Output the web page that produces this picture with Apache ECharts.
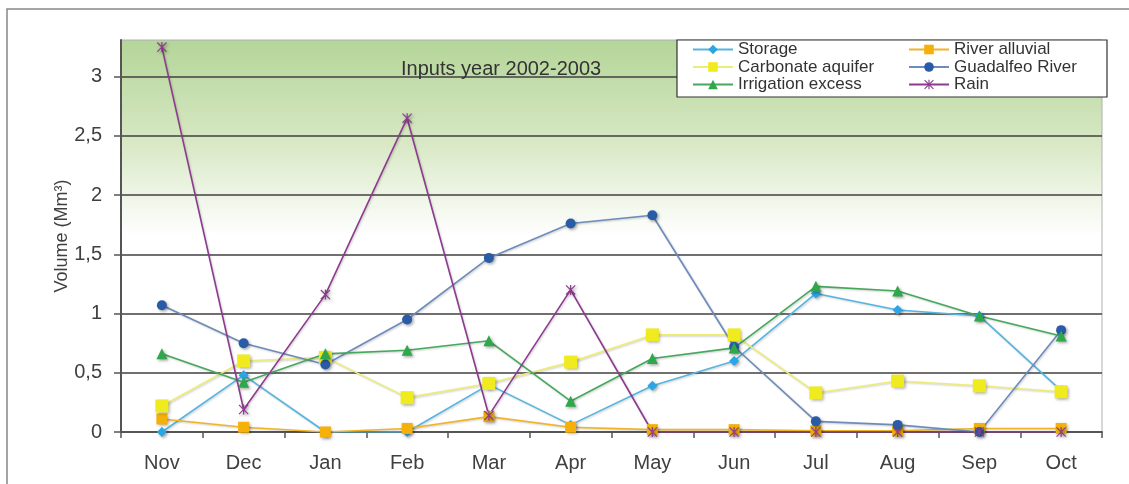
<!DOCTYPE html>
<html>
<head>
<meta charset="utf-8">
<script src="https://cdn.jsdelivr.net/npm/echarts@6/dist/echarts.min.js"></script>
<style>html,body{margin:0;padding:0;background:#fff}#c{width:1129px;height:484px}</style>
</head>
<body>
<div id="c"></div>
<script>
const months = ['Nov','Dec','Jan','Feb','Mar','Apr','May','Jun','Jul','Aug','Sep','Oct'];
const storage = [0, 0.48, 0, 0, 0.40, 0.06, 0.39, 0.60, 1.17, 1.03, 0.98, 0.35];
const riverAlluvial = [0.11, 0.04, 0, 0.03, 0.13, 0.04, 0.02, 0.02, 0.01, 0.01, 0.03, 0.03];
const carbonateAquifer = [0.22, 0.60, 0.63, 0.29, 0.41, 0.59, 0.82, 0.82, 0.33, 0.43, 0.39, 0.34];
const guadalfeoRiver = [1.07, 0.75, 0.57, 0.95, 1.47, 1.76, 1.83, 0.72, 0.09, 0.06, 0, 0.86];
const irrigationExcess = [0.66, 0.42, 0.66, 0.69, 0.77, 0.26, 0.62, 0.71, 1.23, 1.19, 0.98, 0.81];
const rain = [3.25, 0.19, 1.16, 2.65, 0.14, 1.20, 0, 0, 0, 0, 0, 0];
const yTicks = [0, 0.5, 1, 1.5, 2, 2.5, 3];

const FONT = '"Liberation Sans", Arial, sans-serif';
const star = 'path://M4.4 0 L5.6 0 L5.6 10 L4.4 10 Z M0 0.8 L0.8 0 L10 9.2 L9.2 10 Z M9.2 0 L10 0.8 L0.8 10 L0 9.2 Z';
const shadow = {shadowColor:'rgba(0,0,0,0.35)', shadowBlur:3, shadowOffsetX:1.5, shadowOffsetY:1.5};

function mk(name, data, lineColor, markColor, symbol, size) {
  return {
    name, type:'line', data, symbol, symbolSize:size,
    lineStyle:{color:lineColor, width:1.6, shadowColor:'rgba(0,0,0,0.2)', shadowBlur:2, shadowOffsetX:1, shadowOffsetY:1},
    itemStyle:Object.assign({color:markColor, borderWidth:0}, shadow),
    emphasis:{disabled:true}, animation:false
  };
}

const legendText = {fontSize:17, lineHeight:17, color:'#333', fontFamily:FONT};

const chart = echarts.init(document.getElementById('c'), null, {renderer:'canvas'});
chart.setOption({
  animation:false,
  title:{text:'Inputs year 2002-2003', left:401, top:59, padding:0, textStyle:{fontSize:20, fontWeight:'normal', color:'#333', fontFamily:FONT}},
  grid:{left:121, right:27, top:40, bottom:52, show:true, borderColor:'#b0b0b0', borderWidth:1,
    backgroundColor:{type:'linear', x:0, y:0, x2:0, y2:1, colorStops:[{offset:0,color:'#b4d598'},{offset:0.25,color:'#d6e7c2'},{offset:0.5,color:'#ffffff'},{offset:1,color:'#ffffff'}]}},
  xAxis:{type:'category', data:months, boundaryGap:true,
    axisLine:{lineStyle:{color:'#555', width:2}},
    axisTick:{show:true, length:6, lineStyle:{color:'#555', width:1.5}},
    axisLabel:{fontSize:20, color:'#404040', margin:21, fontFamily:FONT},
    splitLine:{show:false}},
  yAxis:{type:'value', min:0, max:3.31, interval:0.5,
    name:'Volume (Mm³)', nameLocation:'middle', nameGap:50, nameRotate:90, nameMoveOverlap:false,
    nameTextStyle:{fontSize:18, color:'#404040', fontFamily:FONT},
    axisLine:{show:true, lineStyle:{color:'#555', width:2}},
    axisTick:{show:true, length:7, customValues:yTicks, lineStyle:{color:'#555', width:1.5}},
    axisLabel:{fontSize:20, color:'#404040', margin:19, fontFamily:FONT, customValues:yTicks,
      formatter:v=>String(v).replace('.',',')},
    splitLine:{show:true, lineStyle:{color:'#404040', width:1.5}}},
  graphic:[
    {type:'rect', z:3, shape:{x:677, y:40, width:430, height:57}, style:{fill:'#fff', stroke:'#333', lineWidth:1.2}},
    {type:'rect', z:0, silent:true, shape:{x:7, y:9, width:1200, height:600}, style:{fill:'none', stroke:'#888', lineWidth:1.5}}
  ],
  legend:[
    {data:['Storage','Carbonate aquifer','Irrigation excess'], orient:'vertical', left:692, top:41, padding:0,
     itemWidth:40, itemHeight:12, itemGap:0.5, z:5, textStyle:legendText},
    {data:['River alluvial','Guadalfeo River','Rain'], orient:'vertical', left:908, top:41, padding:0,
     itemWidth:40, itemHeight:12, itemGap:0.5, z:5, textStyle:legendText}
  ],
  series:[
    mk('Storage', storage, '#55b5e0', '#2aa6e6', 'diamond', 10),
    mk('River alluvial', riverAlluvial, '#f0b428', '#f5b00a', 'rect', 11),
    mk('Carbonate aquifer', carbonateAquifer, '#eeec78', '#efeb1e', 'rect', 13),
    mk('Guadalfeo River', guadalfeoRiver, '#6d8cba', '#2a5ba6', 'circle', 10),
    mk('Irrigation excess', irrigationExcess, '#45a85e', '#2ea84a', 'triangle', 11),
    mk('Rain', rain, '#8c3b8f', '#8c3b8f', star, 10)
  ]
});
</script>
</body>
</html>
